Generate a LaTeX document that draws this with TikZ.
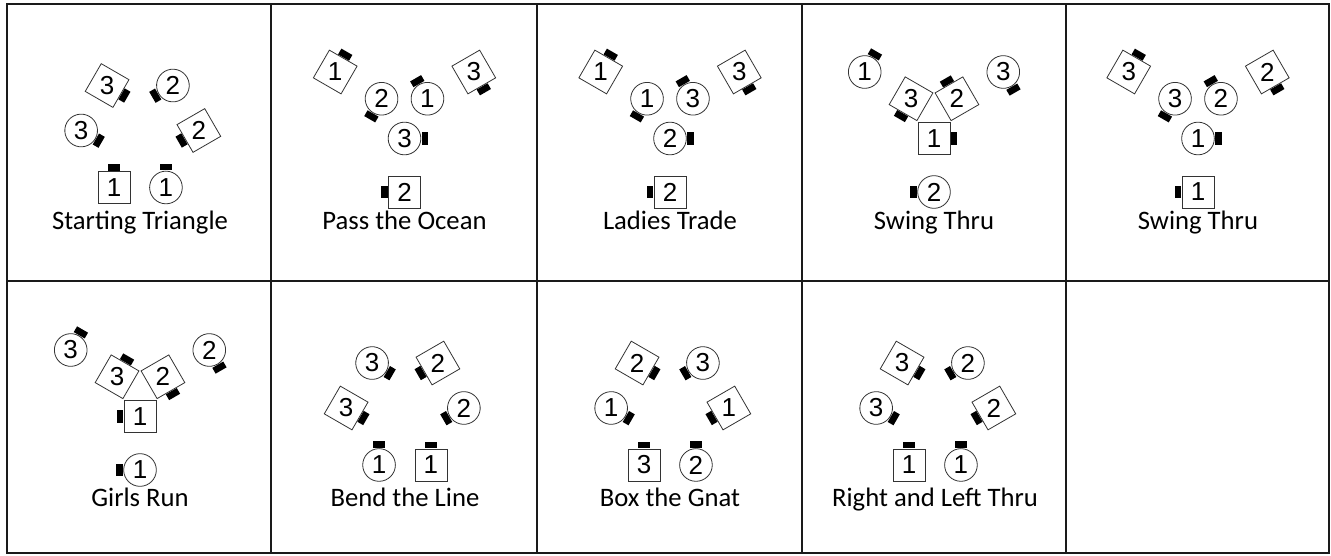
\documentclass[tikz,border=0pt]{standalone}
\usepackage{fontspec}
\setmainfont{Carlito}
\newfontfamily\numfont{Liberation Sans}
\usetikzlibrary{positioning}
\definecolor{GridLine}{HTML}{1A1A1A}
\definecolor{EdgeGray}{HTML}{333333}
\tikzset{
  boy/.style={draw=EdgeGray, line width=0.6pt, rectangle, minimum size=24pt, inner sep=0pt},
  girl/.style={draw=EdgeGray, line width=0.6pt, circle, minimum size=24.5pt, inner sep=0pt},
  nose/.style={fill=black, rectangle, minimum width=9.5pt, minimum height=5pt, inner sep=0pt, anchor=south},
  digit/.style={font=\numfont\fontsize{19.5}{19.5}\selectfont, inner sep=0pt},
  celllabel/.style={font=\fontsize{20}{24}\selectfont, anchor=base},
  tableline/.style={draw=GridLine, line width=1.2pt}
}
% shape, name, position, facing, number
\newcommand{\dancer}[5]{%
  \node[#1, rotate=#4-90] (#2) at (#3) {};
  \node[nose, rotate=#4-90] at (#2.north) {};
  \node[digit] at (#2.center) {#5};
}

\begin{document}
\begin{tikzpicture}[x=0.75pt, y=-0.75pt]
\useasboundingbox (0,0) rectangle (1331,556);

% table
\draw[tableline] (7,4) rectangle (1329,553);
\draw[tableline] (7,281) -- (1329,281);
\foreach \x in {271,537,802,1066}
  \draw[tableline] (\x,4) -- (\x,553);

% Starting Triangle
\begin{scope}[shift={(140,134.5)}, yscale=-1]
  \dancer{boy}{st-b1}{243.9:59}{90}{1}
  \dancer{girl}{st-g1}{296.1:59}{90}{1}
  \dancer{boy}{st-b2}{3.9:59}{210}{2}
  \dancer{girl}{st-g2}{56.1:59}{210}{2}
  \dancer{boy}{st-b3}{123.9:59}{330}{3}
  \dancer{girl}{st-g3}{176.1:59}{330}{3}
\end{scope}
\node[celllabel] (st-label) at (140,229) {Starting Triangle};

% Pass the Ocean
\begin{scope}[shift={(404.5,112)}, yscale=-1]
  \dancer{girl}{po-g3}{270:26.5}{0}{3}
  \dancer{girl}{po-g1}{30:26.5}{120}{1}
  \dancer{girl}{po-g2}{150:26.5}{240}{2}
  \dancer{boy}{po-b2}{270:80}{180}{2}
  \dancer{boy}{po-b3}{30:80}{300}{3}
  \dancer{boy}{po-b1}{150:80}{60}{1}
\end{scope}
\node[celllabel] (po-label) at (404.5,229) {Pass the Ocean};

% Ladies Trade
\begin{scope}[shift={(670,112)}, yscale=-1]
  \dancer{girl}{lt-g2}{270:26.5}{0}{2}
  \dancer{girl}{lt-g3}{30:26.5}{120}{3}
  \dancer{girl}{lt-g1}{150:26.5}{240}{1}
  \dancer{boy}{lt-b2}{270:80}{180}{2}
  \dancer{boy}{lt-b3}{30:80}{300}{3}
  \dancer{boy}{lt-b1}{150:80}{60}{1}
\end{scope}
\node[celllabel] (lt-label) at (670,229) {Ladies Trade};

% Swing Thru
\begin{scope}[shift={(934,112)}, yscale=-1]
  \dancer{boy}{sa-b1}{270:26.5}{0}{1}
  \dancer{boy}{sa-b2}{30:26.5}{120}{2}
  \dancer{boy}{sa-b3}{150:26.5}{240}{3}
  \dancer{girl}{sa-g2}{270:80}{180}{2}
  \dancer{girl}{sa-g3}{30:80}{300}{3}
  \dancer{girl}{sa-g1}{150:80}{60}{1}
\end{scope}
\node[celllabel] (sa-label) at (934,229) {Swing Thru};

% Swing Thru again
\begin{scope}[shift={(1198,112)}, yscale=-1]
  \dancer{girl}{sb-g1}{270:26.5}{0}{1}
  \dancer{girl}{sb-g2}{30:26.5}{120}{2}
  \dancer{girl}{sb-g3}{150:26.5}{240}{3}
  \dancer{boy}{sb-b1}{270:80}{180}{1}
  \dancer{boy}{sb-b2}{30:80}{300}{2}
  \dancer{boy}{sb-b3}{150:80}{60}{3}
\end{scope}
\node[celllabel] (sb-label) at (1198,229) {Swing Thru};

% Girls Run
\begin{scope}[shift={(140,390)}, yscale=-1]
  \dancer{boy}{gr-b1}{270:26.5}{180}{1}
  \dancer{boy}{gr-b2}{30:26.5}{300}{2}
  \dancer{boy}{gr-b3}{150:26.5}{60}{3}
  \dancer{girl}{gr-g1}{270:80}{180}{1}
  \dancer{girl}{gr-g2}{30:80}{300}{2}
  \dancer{girl}{gr-g3}{150:80}{60}{3}
\end{scope}
\node[celllabel] (gr-label) at (140,506) {Girls Run};

% Bend the Line
\begin{scope}[shift={(405,412)}, yscale=-1]
  \dancer{girl}{bl-g1}{243.9:59}{90}{1}
  \dancer{boy}{bl-b1}{296.1:59}{90}{1}
  \dancer{girl}{bl-g2}{3.9:59}{210}{2}
  \dancer{boy}{bl-b2}{56.1:59}{210}{2}
  \dancer{girl}{bl-g3}{123.9:59}{330}{3}
  \dancer{boy}{bl-b3}{176.1:59}{330}{3}
\end{scope}
\node[celllabel] (bl-label) at (405,506) {Bend the Line};

% Box the Gnat
\begin{scope}[shift={(670,412)}, yscale=-1]
  \dancer{boy}{bg-b3}{243.9:59}{90}{3}
  \dancer{girl}{bg-g2}{296.1:59}{90}{2}
  \dancer{boy}{bg-b1}{3.9:59}{210}{1}
  \dancer{girl}{bg-g3}{56.1:59}{210}{3}
  \dancer{boy}{bg-b2}{123.9:59}{330}{2}
  \dancer{girl}{bg-g1}{176.1:59}{330}{1}
\end{scope}
\node[celllabel] (bg-label) at (670,506) {Box the Gnat};

% Right and Left Thru
\begin{scope}[shift={(935,412)}, yscale=-1]
  \dancer{boy}{rl-b1}{243.9:59}{90}{1}
  \dancer{girl}{rl-g1}{296.1:59}{90}{1}
  \dancer{boy}{rl-b2}{3.9:59}{210}{2}
  \dancer{girl}{rl-g2}{56.1:59}{210}{2}
  \dancer{boy}{rl-b3}{123.9:59}{330}{3}
  \dancer{girl}{rl-g3}{176.1:59}{330}{3}
\end{scope}
\node[celllabel] (rl-label) at (935,506) {Right and Left Thru};
\end{tikzpicture}
\end{document}
